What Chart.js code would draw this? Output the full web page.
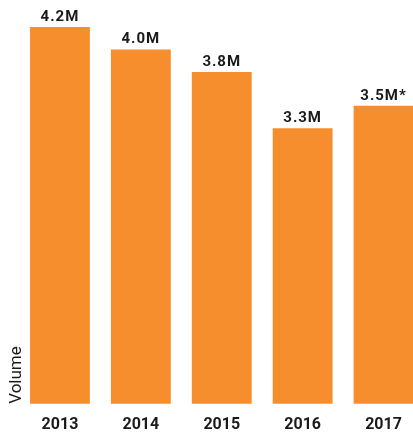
<!DOCTYPE html>
<html>
<head>
<meta charset="utf-8">
<script src="https://cdn.jsdelivr.net/npm/chart.js@4/dist/chart.umd.min.js"></script>
<style>
  html, body { margin: 0; padding: 0; background: #fff; overflow: hidden; }
  #wrap { width: 413px; height: 436px; overflow: hidden; }
  canvas { display: block; }
</style>
</head>
<body>
<div id="wrap"><canvas id="myChart" width="424" height="447"></canvas></div>
<script>
// yearly volume, in millions
var years = ['2013', '2014', '2015', '2016', '2017'];
var volume = [4.2, 4.0, 3.8, 3.3, 3.5];
var notes = ['', '', '', '', '*'];

var orange = '#F68E2D';
var ink = '#1a1a1a';

// value labels above each bar, plus the "Volume" caption at the bottom left
var barLabels = {
  id: 'barLabels',
  afterDatasetsDraw: function(chart) {
    var ctx = chart.ctx;
    var meta = chart.getDatasetMeta(0);
    ctx.save();
    ctx.fillStyle = ink;
    ctx.font = 'bold 15px Roboto';
    ctx.letterSpacing = '1px';
    ctx.textAlign = 'center';
    ctx.textBaseline = 'alphabetic';
    for (var i = 0; i < meta.data.length; i++) {
      var bar = meta.data[i];
      var txt = volume[i].toFixed(1) + 'M' + notes[i];
      ctx.fillText(txt, bar.x, bar.y - 6);
    }
    ctx.restore();

    ctx.save();
    ctx.fillStyle = ink;
    ctx.font = '17px Roboto';
    ctx.translate(21, chart.chartArea.bottom);
    ctx.rotate(-Math.PI / 2);
    ctx.textAlign = 'left';
    ctx.textBaseline = 'alphabetic';
    ctx.fillText('Volume', 0, 0);
    ctx.restore();
  }
};

var ctx = document.getElementById('myChart').getContext('2d');
var myChart = new Chart(ctx, {
  type: 'bar',
  data: {
    labels: years,
    datasets: [{
      data: volume,
      backgroundColor: orange,
      borderWidth: 0,
      barPercentage: 0.74,
      categoryPercentage: 1
    }]
  },
  options: {
    responsive: false,
    animation: false,
    layout: { padding: { top: 27, left: 19.5, right: 0, bottom: 0 } },
    plugins: {
      legend: { display: false },
      tooltip: { enabled: false }
    },
    scales: {
      x: {
        grid: { display: false, drawTicks: false },
        border: { display: false },
        ticks: {
          color: ink,
          padding: 12,
          font: { family: 'Roboto', size: 16, weight: 'bold' }
        }
      },
      y: {
        display: false,
        min: 0.85,
        max: 4.2
      }
    }
  },
  plugins: [barLabels]
});
</script>
</body>
</html>
